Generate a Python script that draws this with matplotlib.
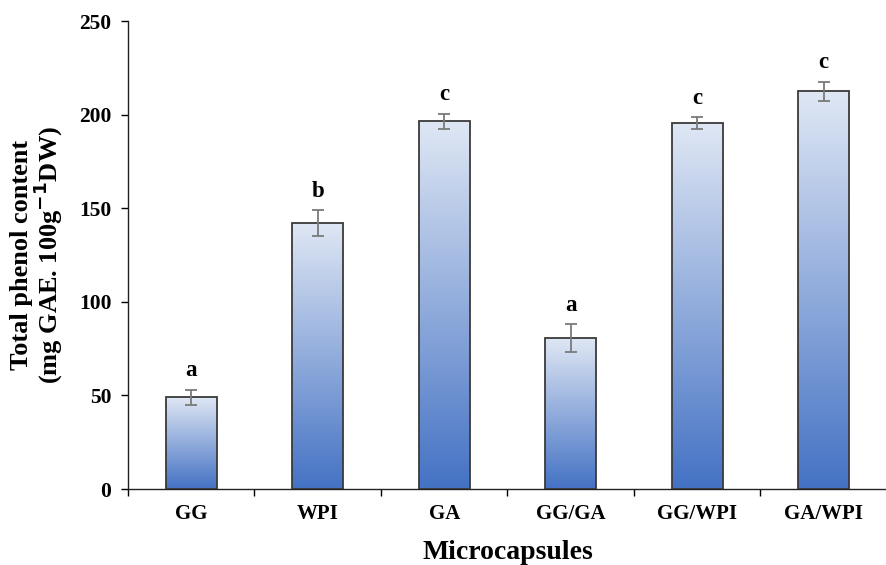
import numpy as np
import matplotlib.pyplot as plt
from matplotlib.colors import LinearSegmentedColormap

# data
samples = ['GG', 'WPI', 'GA', 'GG/GA', 'GG/WPI', 'GA/WPI']
phenol = [49, 142, 196.5, 80.5, 195.5, 212.5]
err = [4, 7, 4, 7.5, 3, 5]
letters = ['a', 'b', 'c', 'a', 'c', 'c']

plt.rcParams['font.family'] = ['Liberation Serif', 'DejaVu Serif']
plt.rcParams['font.weight'] = 'bold'

fig = plt.figure(figsize=(8.87, 5.65), dpi=100)
ax = fig.add_axes([0.1443, 0.1345, 0.8557, 0.8283])

# vertical gradient: light at top, blue at bottom
grad_cmap = LinearSegmentedColormap.from_list('blu', ['#4472c4', '#dfe7f4'])
grad = np.linspace(0, 1, 256).reshape(-1, 1)

x = np.arange(len(samples))
w = 0.4
bars = ax.bar(x, phenol, width=w, color='none', edgecolor='#3a3a3a', linewidth=1.3, zorder=3)
for bar in bars:
    x0 = bar.get_x()
    h = bar.get_height()
    ax.imshow(grad, cmap=grad_cmap, origin='lower', aspect='auto',
              extent=[x0, x0 + bar.get_width(), 0, h], zorder=2)

ax.errorbar(x, phenol, yerr=err, fmt='none', ecolor='#7a7a7a', elinewidth=1.3,
            capsize=4.5, capthick=1.3, zorder=4)

for xi, v, e, lt in zip(x, phenol, err, letters):
    ax.text(xi, v + e + 4.5, lt, ha='center', va='bottom', fontsize=16.5, fontweight='bold')

ax.set_xlim(-0.5, len(samples) - 0.5)
ax.set_ylim(0, 250)
ax.set_yticks(np.arange(0, 251, 50))
ax.set_xticks(x)
ax.set_xticklabels(samples)
ax.set_xticks(np.arange(-0.5, len(samples)), minor=True)
ax.tick_params(axis='x', which='major', length=0, pad=11, labelsize=15)
ax.tick_params(axis='x', which='minor', length=5, width=1, direction='out')
ax.tick_params(axis='y', length=5, width=1, direction='out', labelsize=15.5, pad=7)

for s in ['top', 'right']:
    ax.spines[s].set_visible(False)
for s in ['left', 'bottom']:
    ax.spines[s].set_linewidth(1)
    ax.spines[s].set_color('#222222')

ax.set_xlabel('Microcapsules', fontsize=20, fontweight='bold', labelpad=11)
ax.set_ylabel('Total phenol content\n(mg GAE. 100g$^{\\mathbf{-1}}$DW)', fontsize=19,
              fontweight='bold', labelpad=10, linespacing=0.95)

plt.savefig('out.png', dpi=100)
